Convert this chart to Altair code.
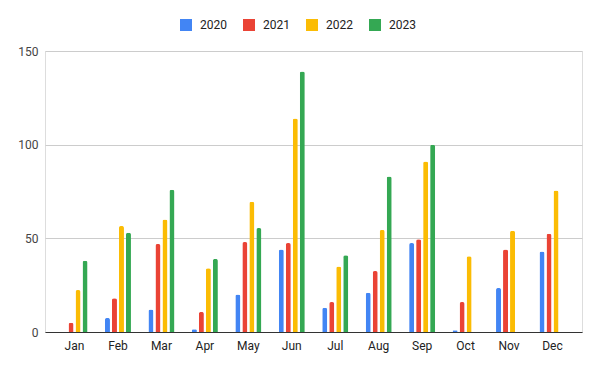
import altair as alt
import pandas as pd

months = ["Jan", "Feb", "Mar", "Apr", "May", "Jun", "Jul", "Aug", "Sep", "Oct", "Nov", "Dec"]
years = ["2020", "2021", "2022", "2023"]
v2020 = [None, 7.5, 12, 1.5, 20, 44, 13, 21, 47.5, 1, 23.5, 43]
v2021 = [5, 18, 47, 10.7, 48, 47.5, 16, 32.5, 49.5, 16, 44, 52.5]
v2022 = [22.4, 56.6, 60, 34, 69.5, 114, 35, 54.5, 91, 40.5, 54, 75.5]
v2023 = [38, 53, 76, 39, 55.5, 139, 41, 83, 100, None, None, None]
colors = ["#4285F4", "#EA4335", "#FBBC04", "#34A853"]

rows = []
for y, vals in zip(years, [v2020, v2021, v2022, v2023]):
    for m, v in zip(months, vals):
        if v is not None:
            rows.append({"month": m, "year": y, "value": v})
df = pd.DataFrame(rows)

font = "Roboto"

bars = alt.Chart(df).mark_bar(
    cornerRadiusTopLeft=2, cornerRadiusTopRight=2
).encode(
    x=alt.X("month:N", sort=months, title=None,
            scale=alt.Scale(paddingInner=0.4016, paddingOuter=0.38),
            axis=alt.Axis(labelAngle=0, ticks=False, domain=True, domainColor="#333333",
                          domainWidth=1, labelColor="#222222", labelFontSize=12,
                          labelPadding=8, labelFont=font, grid=False)),
    xOffset=alt.XOffset("year:N", sort=years,
                        scale=alt.Scale(paddingInner=0.2857, paddingOuter=0)),
    y=alt.Y("value:Q", title=None,
            scale=alt.Scale(domain=[0, 150], nice=False),
            axis=alt.Axis(values=[0, 50, 100, 150], ticks=False, domain=False,
                          gridColor="#cccccc", labelColor="#444444", labelFontSize=12,
                          labelPadding=7, labelFont=font)),
    color=alt.Color("year:N", sort=years,
                    scale=alt.Scale(domain=years, range=colors),
                    legend=alt.Legend(title=None, orient="none", direction="horizontal",
                                      legendX=135, legendY=-32, symbolType="square",
                                      symbolSize=144, symbolStrokeWidth=0, labelOffset=8,
                                      columnPadding=16, labelFontSize=12, labelColor="#222222",
                                      labelFont=font)),
)

chart = bars.properties(
    width=537, height=281,
    autosize=alt.AutoSizeParams(type="none"),
    padding={"left": 37, "top": 43, "right": 10, "bottom": 30},
).configure_view(stroke=None).configure(background="white")

chart.save("out.html", embed_options={"renderer": "svg", "actions": False})
